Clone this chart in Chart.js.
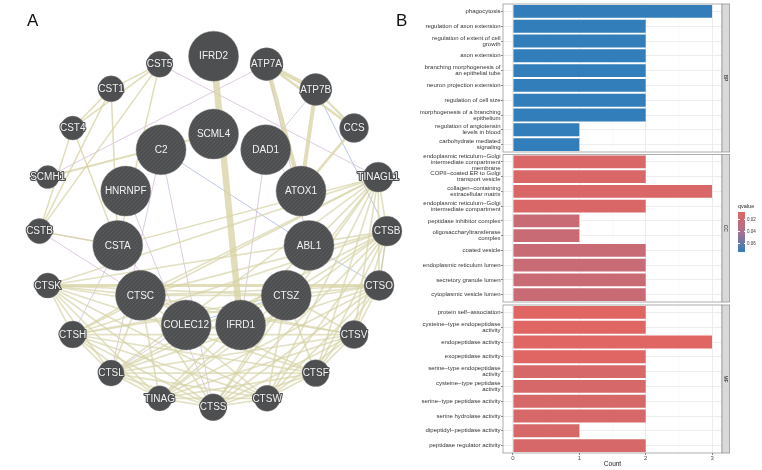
<!DOCTYPE html>
<html>
<head>
<meta charset="utf-8">
<script src="https://cdn.jsdelivr.net/npm/chart.js@4.4.1/dist/chart.umd.min.js"></script>
<style>
  body { margin: 0; background: #fff; }
  #wrap { position: relative; width: 762px; height: 470px; overflow: hidden; font-family: "Liberation Sans", Arial, sans-serif; }
  canvas { position: absolute; }
  .tag { position: absolute; font-size: 17px; line-height: 17px; color: #111; }
  .lg { position: absolute; color: #222; white-space: nowrap; }
</style>
</head>
<body>
<div id="wrap">
  <canvas id="net" width="440" height="470" style="left:0;top:0"></canvas>
  <canvas id="bp" width="352" height="156" style="left:380px;top:0"></canvas>
  <canvas id="cc" width="352" height="156" style="left:380px;top:150px"></canvas>
  <canvas id="mf" width="352" height="170" style="left:380px;top:300px"></canvas>
  <div class="tag" style="left:27px;top:12px">A</div>
  <div class="tag" style="left:396px;top:12px">B</div>
  <div id="legend"></div>
</div>
<script>
// ---- panel A: gene network (layout) ----
const nodeNames = ['IFRD2', 'ATP7A', 'ATP7B', 'CCS', 'TINAGL1', 'CTSB', 'CTSO', 'CTSV', 'CTSF', 'CTSW',
  'CTSS', 'TINAG', 'CTSL', 'CTSH', 'CTSK', 'CSTB', 'SCMH1', 'CST4', 'CST1', 'CST5',
  'SCML4', 'C2', 'DAD1', 'HNRNPF', 'ATOX1', 'CSTA', 'ABL1', 'CTSC', 'CTSZ', 'COLEC12', 'IFRD1'];
const nodeX = [212.7, 272.7, 328.3, 371.7, 399, 409, 400, 371.7, 328.3, 273.3,
  212.3, 151.7, 96.7, 53.3, 25, 15.7, 25, 53.3, 96.7, 151.7,
  212.7, 153.3, 271.7, 113.3, 311.7, 104.3, 320.7, 130, 295, 181.7, 243.3];
const nodeY = [34.3, 43.3, 71.7, 115, 170, 230.7, 291.7, 346.7, 390, 418.3,
  428.3, 418.3, 390, 346.7, 291.7, 230.7, 170, 115, 71, 43.3,
  121.7, 139.3, 139.3, 185.7, 185.7, 246.7, 246.7, 302.7, 302.7, 336, 336];
// relative node score
const nodeScore = [1, 0.43, 0.4, 0.3, 0.33, 0.33, 0.33, 0.27, 0.23, 0.2,
  0.23, 0.17, 0.2, 0.23, 0.17, 0.17, 0.1, 0.13, 0.2, 0.2,
  1, 1, 1, 1, 1, 1, 1, 1, 1, 1, 1];
const queryGenes = ['SCML4', 'C2', 'DAD1', 'HNRNPF', 'ATOX1', 'CSTA', 'ABL1', 'CTSC', 'CTSZ', 'COLEC12', 'IFRD1'];

// shared protein domains
const domainEdges = [
  ['IFRD2', 'IFRD1', 6.5],
  ['ATP7A', 'ATP7B', 4], ['ATP7A', 'CCS', 2.5], ['ATP7B', 'CCS', 2],
  ['ATP7A', 'ATOX1', 4.5], ['ATP7B', 'ATOX1', 4], ['CCS', 'ATOX1', 2.5],
  ['SCMH1', 'SCML4', 2],
  ['CST5', 'CST1', 1.5], ['CST5', 'CST4', 1.5], ['CST5', 'CSTA', 1.5], ['CST5', 'CSTB', 1.5],
  ['CST1', 'CST4', 1.5], ['CST1', 'CSTA', 1.5], ['CST1', 'CSTB', 1.5],
  ['CST4', 'CSTA', 1.5], ['CST4', 'CSTB', 1.5], ['CSTA', 'CSTB', 1.5],
  ['TINAGL1', 'CSTA', 1.4], ['CTSK', 'CTSO', 3]
];
const cathepsinMesh = [
  'TINAGL1:CTSB,CTSO,CTSV,CTSF,CTSW,CTSS,TINAG,CTSL,CTSH,CTSK,CTSC,CTSZ',
  'CTSB:CTSO,CTSV,CTSF,CTSW,CTSS,TINAG,CTSL,CTSH,CTSK,CTSC,CTSZ',
  'CTSO:CTSV,CTSF,CTSW,CTSS,TINAG,CTSL,CTSH,CTSC,CTSZ',
  'CTSV:CTSF,CTSW,CTSS,TINAG,CTSL,CTSH,CTSK,CTSC,CTSZ',
  'CTSF:CTSW,CTSS,TINAG,CTSL,CTSH,CTSK,CTSC,CTSZ',
  'CTSW:CTSS,TINAG,CTSL,CTSH,CTSK,CTSC,CTSZ',
  'CTSS:TINAG,CTSL,CTSH,CTSK,CTSC,CTSZ',
  'TINAG:CTSL,CTSH,CTSK,CTSC,CTSZ',
  'CTSL:CTSH,CTSK,CTSC,CTSZ',
  'CTSH:CTSK,CTSC,CTSZ',
  'CTSK:CTSC,CTSZ',
  'CTSC:CTSZ'
];
// co-expression
const coexpEdges = [
  ['CST5', 'TINAGL1'], ['ATP7A', 'SCMH1'], ['ATP7A', 'ABL1'], ['ATP7B', 'DAD1'],
  ['CSTB', 'CSTA'], ['CSTB', 'CTSC'], ['C2', 'CTSS'], ['C2', 'CTSL'], ['DAD1', 'IFRD1'],
  ['CTSH', 'CSTA'], ['HNRNPF', 'CTSS'], ['CSTA', 'COLEC12'], ['CTSL', 'COLEC12'], ['DAD1', 'ATOX1']
];
// co-localization
const colocEdges = [
  ['C2', 'ABL1'], ['ATP7B', 'CTSB'], ['ABL1', 'CTSO'], ['CTSB', 'CTSO'], ['COLEC12', 'CTSZ']
];

// ---- panel B: GO enrichment ----
const bpTerms = ['phagocytosis', 'regulation of axon extension', ['regulation of extent of cell', 'growth'],
  'axon extension', ['branching morphogenesis of', 'an epithelial tube'], 'neuron projection extension',
  'regulation of cell size', ['morphogenesis of a branching', 'epithelium'],
  ['regulation of angiotensin', 'levels in blood'], ['carbohydrate mediated', 'signaling']];
const bpCounts = [3, 2, 2, 2, 2, 2, 2, 2, 1, 1];
const bpQ = [0.0736, 0.0738, 0.0738, 0.0738, 0.0738, 0.0738, 0.0738, 0.0738, 0.0738, 0.0738];

const ccTerms = [['endoplasmic reticulum−Golgi', 'intermediate compartment', 'membrane'],
  ['COPII−coated ER to Golgi', 'transport vesicle'], ['collagen−containing', 'extracellular matrix'],
  ['endoplasmic reticulum−Golgi', 'intermediate compartment'], 'peptidase inhibitor complex',
  ['oligosaccharyltransferase', 'complex'], 'coated vesicle', 'endoplasmic reticulum lumen',
  'secretory granule lumen', 'cytoplasmic vesicle lumen'];
const ccCounts = [2, 2, 3, 2, 1, 1, 2, 2, 2, 2];
const ccQ = [0.0105, 0.0105, 0.0105, 0.0105, 0.021, 0.021, 0.021, 0.021, 0.021, 0.021];

const mfTerms = ['protein self−association', ['cysteine−type endopeptidase', 'activity'],
  'endopeptidase activity', 'exopeptidase activity', ['serine−type endopeptidase', 'activity'],
  ['cysteine−type peptidase', 'activity'], 'serine−type peptidase activity', 'serine hydrolase activity',
  'dipeptidyl−peptidase activity', 'peptidase regulator activity'];
const mfCounts = [2, 2, 3, 2, 2, 2, 2, 2, 1, 2];
const mfQ = [0.0072, 0.0072, 0.0072, 0.0072, 0.0125, 0.0125, 0.0125, 0.0125, 0.0125, 0.0125];

const qRange = [0.0072, 0.0738];
const qTicks = [0.02, 0.04, 0.06];
const colorStops = ['#E06663', '#A8718F', '#327EBA'];

Chart.defaults.font.family = '"Liberation Sans", Arial, sans-serif';

function hexRgb(h) {
  return [1, 3, 5].map(i => parseInt(h.substr(i, 2), 16));
}
function qColor(q) {
  let t = (q - qRange[0]) / (qRange[1] - qRange[0]);
  t = Math.max(0, Math.min(1, t)) * (colorStops.length - 1);
  const i = Math.min(Math.floor(t), colorStops.length - 2);
  const a = hexRgb(colorStops[i]), b = hexRgb(colorStops[i + 1]);
  const f = t - i;
  const c = a.map((v, k) => Math.round(v + (b[k] - v) * f));
  return 'rgb(' + c.join(',') + ')';
}

// ---------- network ----------
const netCanvas = document.getElementById('net');
const netCtx = netCanvas.getContext('2d');

function stripes() {
  const c = document.createElement('canvas');
  c.width = 4; c.height = 4;
  const g = c.getContext('2d');
  g.fillStyle = '#4E4F51';
  g.fillRect(0, 0, 4, 4);
  g.strokeStyle = '#5B5C5E';
  g.lineWidth = 0.9;
  g.beginPath();
  g.moveTo(0, 4); g.lineTo(4, 0);
  g.moveTo(-1, 1); g.lineTo(1, -1);
  g.moveTo(3, 5); g.lineTo(5, 3);
  g.stroke();
  return netCtx.createPattern(c, 'repeat');
}
const stripeFill = stripes();

const idx = {};
nodeNames.forEach((n, i) => { idx[n] = i; });

function edge(a, b, color, width) {
  return {
    showLine: true,
    data: [{x: nodeX[idx[a]], y: nodeY[idx[a]]}, {x: nodeX[idx[b]], y: nodeY[idx[b]]}],
    borderColor: color,
    borderWidth: width,
    pointRadius: 0,
    order: 1,
    clip: false
  };
}

const edgeSets = [];
cathepsinMesh.forEach(row => {
  const [a, rest] = row.split(':');
  rest.split(',').forEach(b => edgeSets.push(edge(a, b, 'rgba(214,211,166,0.68)', 1.7)));
});
domainEdges.forEach(e => edgeSets.push(edge(e[0], e[1], 'rgba(216,212,166,0.8)', e[2])));
coexpEdges.forEach(e => edgeSets.push(edge(e[0], e[1], 'rgba(208,183,213,0.9)', 0.8)));
colocEdges.forEach(e => edgeSets.push(edge(e[0], e[1], 'rgba(160,179,220,0.9)', 0.8)));

const nodeLabels = {
  id: 'nodeLabels',
  afterDatasetsDraw(chart) {
    const ctx = chart.ctx;
    const meta = chart.getDatasetMeta(0);
    ctx.save();
    ctx.font = '10px "Liberation Sans", Arial, sans-serif';
    ctx.textAlign = 'center';
    ctx.textBaseline = 'middle';
    ctx.lineJoin = 'round';
    meta.data.forEach((pt, i) => {
      if (nodeScore[i] < 1) {
        ctx.lineWidth = 2.2;
        ctx.strokeStyle = '#4A4B4D';
        ctx.strokeText(nodeNames[i], pt.x, pt.y + 0.5);
      }
      ctx.fillStyle = '#F2F2F2';
      ctx.fillText(nodeNames[i], pt.x, pt.y + 0.5);
    });
    ctx.restore();
  }
};

new Chart(netCanvas, {
  type: 'scatter',
  data: {
    datasets: [{
      data: nodeNames.map((n, i) => ({x: nodeX[i], y: nodeY[i]})),
      pointRadius: c => 10 + 15 * nodeScore[c.dataIndex],
      pointBackgroundColor: c => queryGenes.includes(nodeNames[c.dataIndex]) ? stripeFill : '#4E4F51',
      pointBorderColor: 'rgba(130,130,130,0.7)',
      pointBorderWidth: 0.6,
      order: 0,
      clip: false
    }].concat(edgeSets)
  },
  options: {
    responsive: false,
    animation: false,
    events: [],
    layout: {padding: 0},
    plugins: {legend: {display: false}, tooltip: {enabled: false}},
    scales: {
      x: {display: false, min: 0, max: 440},
      y: {display: false, min: 0, max: 470, reverse: true}
    }
  },
  plugins: [nodeLabels]
});

// ---------- facet bar charts ----------
const facetStrip = {
  id: 'facetStrip',
  afterDraw(chart, args, opts) {
    const {ctx, chartArea: a} = chart;
    const h = a.bottom - a.top;
    ctx.save();
    ctx.strokeStyle = '#999';
    ctx.lineWidth = 0.8;
    ctx.strokeRect(a.left, a.top, a.right - a.left, h);
    ctx.fillStyle = '#D9D9D9';
    ctx.fillRect(a.right, a.top, 7.6, h);
    ctx.strokeRect(a.right, a.top, 7.6, h);
    ctx.translate(a.right + 3.8, (a.top + a.bottom) / 2);
    ctx.rotate(Math.PI / 2);
    ctx.fillStyle = '#1A1A1A';
    ctx.font = '5px "Liberation Sans", Arial, sans-serif';
    ctx.textAlign = 'center';
    ctx.textBaseline = 'middle';
    ctx.fillText(opts.label, 0, 0);
    ctx.restore();
  }
};

const isWhole = c => c.tick && Math.abs(c.tick.value - Math.round(c.tick.value)) < 1e-9;

function facet(id, terms, counts, qv, strip, pad, showAxis) {
  new Chart(document.getElementById(id), {
    type: 'bar',
    data: {
      labels: terms,
      datasets: [{
        data: counts,
        backgroundColor: qv.map(qColor),
        borderWidth: 0,
        barPercentage: 0.87,
        categoryPercentage: 1
      }]
    },
    options: {
      indexAxis: 'y',
      responsive: false,
      animation: false,
      events: [],
      layout: {padding: {top: pad[0], bottom: pad[1], left: 0, right: 10}},
      plugins: {legend: {display: false}, tooltip: {enabled: false}, facetStrip: {label: strip}},
      scales: {
        x: {
          min: -0.15,
          max: 3.15,
          ticks: {
            display: showAxis, stepSize: 0.5, includeBounds: false, autoSkip: false, maxRotation: 0,
            callback: v => Number.isInteger(v) ? String(v) : '',
            font: {size: 6}, color: '#4D4D4D', padding: 0
          },
          grid: {
            color: c => isWhole(c) ? '#EBEBEB' : '#F5F5F5',
            lineWidth: c => isWhole(c) ? 0.9 : 0.5,
            drawTicks: showAxis, tickLength: 2, tickWidth: 0.6,
            tickColor: c => isWhole(c) ? '#333' : 'rgba(0,0,0,0)'
          },
          border: {display: false},
          title: {display: showAxis, text: 'Count', font: {size: 6.5}, color: '#222', padding: 0},
          afterFit: s => { s.height = showAxis ? 15 : 0; s.paddingLeft = 0; s.paddingRight = 0; }
        },
        y: {
          ticks: {font: {size: 6, lineHeight: 1}, color: '#333', padding: 0.5, autoSkip: false},
          grid: {offset: false, color: '#EBEBEB', lineWidth: 0.9, tickLength: 2, tickWidth: 0.6, tickColor: '#333'},
          border: {display: false},
          afterFit: s => { s.width = 123; s.paddingTop = 0; s.paddingBottom = 0; }
        }
      }
    },
    plugins: [facetStrip]
  });
}

facet('bp', bpTerms, bpCounts, bpQ, 'BP', [4, 4], false);
facet('cc', ccTerms, ccCounts, ccQ, 'CC', [4.5, 4], false);
facet('mf', mfTerms, mfCounts, mfQ, 'MF', [5, 2], true);

// ---------- qvalue colour bar ----------
const legend = document.getElementById('legend');
const barTop = 212, barH = 40, barLeft = 738;
let html = '<div class="lg" style="left:' + barLeft + 'px;top:203px;font-size:5.5px;line-height:6px">qvalue</div>';
html += '<div style="position:absolute;left:' + barLeft + 'px;top:' + barTop + 'px;width:7px;height:' + barH +
  'px;background:linear-gradient(to bottom,' + colorStops.join(',') + ')"></div>';
qTicks.forEach(v => {
  const y = barTop + (v - qRange[0]) / (qRange[1] - qRange[0]) * barH;
  html += '<div style="position:absolute;left:' + barLeft + 'px;top:' + (y - 0.3) + 'px;width:1.5px;height:0.6px;background:#fff"></div>';
  html += '<div style="position:absolute;left:' + (barLeft + 5.5) + 'px;top:' + (y - 0.3) + 'px;width:1.5px;height:0.6px;background:#fff"></div>';
  html += '<div class="lg" style="left:' + (barLeft + 9) + 'px;top:' + (y - 2.5) + 'px;font-size:4.5px;line-height:5px;color:#333">' + v.toFixed(2) + '</div>';
});
legend.innerHTML = html;
</script>
</body>
</html>
